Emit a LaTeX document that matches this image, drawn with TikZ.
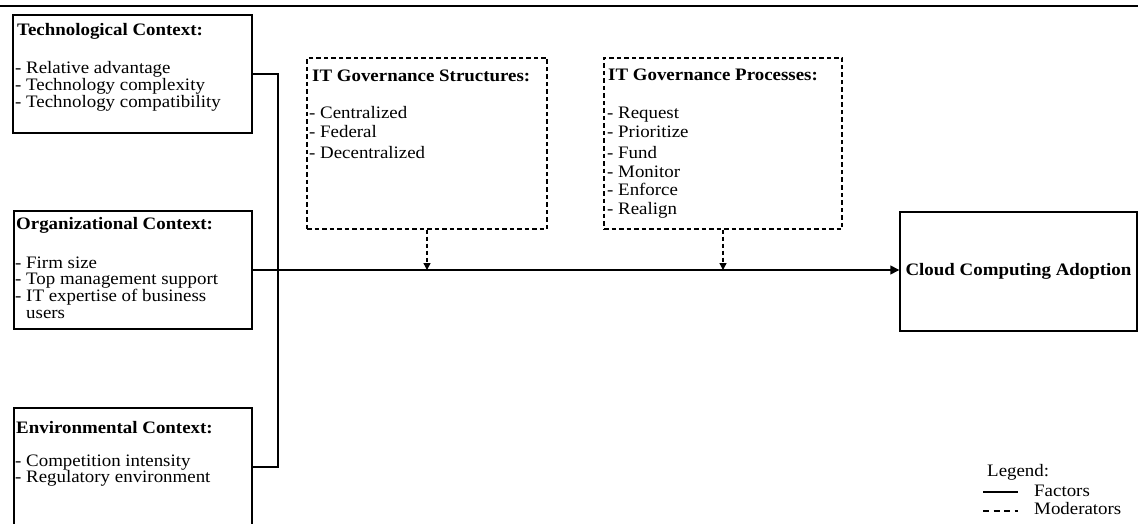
\documentclass[tikz,border=0pt]{standalone}
\usepackage{fontspec}
\setmainfont{Liberation Serif}[FakeStretch=1.08]
\usetikzlibrary{arrows.meta}
\tikzset{
  box/.style={draw=black, line width=1.4pt, rectangle, inner sep=0pt},
  dbox/.style={box, dash pattern=on 4.5pt off 3pt},
  txt/.style={anchor=base west, inner sep=0pt, font=\fontsize{17.5}{19}\selectfont},
  ttl/.style={txt, font=\fontsize{17.5}{19}\selectfont\bfseries},
  conn/.style={draw=black, line width=1.4pt},
  dconn/.style={conn, dash pattern=on 4pt off 3pt},
  tip/.style={-{Triangle[length=9pt,width=9pt]}},
  dtip/.style={-{Triangle[length=7pt,width=7pt]}},
}
\begin{document}
\begin{tikzpicture}[x=1pt,y=-1pt]
\useasboundingbox (0,0) rectangle (1138,524);
\clip (0,0) rectangle (1138,524);
% top rule
\coordinate (rl) at (0,6);
\coordinate (rr) at (1138,6);
\draw[conn] (rl) -- (rr);
% boxes
\node[box, minimum width=239pt, minimum height=118pt] (tech) at (132.5,74) {};
\node[box, minimum width=238pt, minimum height=118pt] (org) at (133,270) {};
\node[box, minimum width=238pt, minimum height=118pt] (env) at (133,467) {};
\node[dbox, minimum width=240pt, minimum height=171pt] (struct) at (427,143.5) {};
\node[dbox, minimum width=238pt, minimum height=171pt] (proc) at (723,143.5) {};
\node[box, minimum width=237pt, minimum height=119pt] (cloud) at (1018.5,271.5) {};
% texts: technological
\node[ttl] (t0) at (17,36) {Technological Context:};
\node[txt] (t1) at (15,74) {- Relative advantage};
\node[txt] (t2) at (15,91) {- Technology complexity};
\node[txt] (t3) at (15,108) {- Technology compatibility};
% organizational
\node[ttl] (o0) at (16,229) {Organizational Context:};
\node[txt] (o1) at (15,268) {- Firm size};
\node[txt] (o2) at (15,284) {- Top management support};
\node[txt] (o3) at (15,301) {- IT expertise of business};
\node[txt] (o4) at (26,318) {users};
% environmental
\node[ttl] (e0) at (16,433) {Environmental Context:};
\node[txt] (e1) at (15,466) {- Competition intensity};
\node[txt] (e2) at (15,482) {- Regulatory environment};
% structures
\node[ttl] (s0) at (312,82) {IT Governance Structures:};
\node[txt] (s1) at (309,119) {- Centralized};
\node[txt] (s2) at (309,138) {- Federal};
\node[txt] (s3) at (309,158) {- Decentralized};
% processes
\node[ttl] (p0) at (608,81) {IT Governance Processes:};
\node[txt] (p1) at (607,119) {- Request};
\node[txt] (p2) at (607,138) {- Prioritize};
\node[txt] (p3) at (607,158) {- Fund};
\node[txt] (p4) at (607,177) {- Monitor};
\node[txt] (p5) at (607,196) {- Enforce};
\node[txt] (p6) at (607,214) {- Realign};
% cloud
\node[inner sep=0pt, font=\fontsize{17.5}{19}\selectfont\bfseries] (c0) at (cloud.center) {Cloud Computing Adoption};
% connectors
\coordinate (bus) at (278,270);
\draw[conn] (tech.east) -| (bus) |- (env.east);
\draw[conn, tip] (org.east) -- (org.east -| cloud.west);
\draw[dconn, dtip] (struct.south) -- (struct.south |- org.east);
\draw[dconn, dtip] (proc.south) -- (proc.south |- org.east);
% legend
\node[txt] (l0) at (987,476) {Legend:};
\coordinate (la) at (983,492);
\coordinate (lb) at (1018,492);
\draw[conn] (la) -- (lb);
\node[txt] (l1) at (1034,496) {Factors};
\coordinate (lc) at (983,511);
\coordinate (ld) at (1018,511);
\draw[conn, line width=1.2pt, dash pattern=on 6pt off 4.5pt] (lc) -- (ld);
\node[txt] (l2) at (1034,514) {Moderators};
\end{tikzpicture}
\end{document}
